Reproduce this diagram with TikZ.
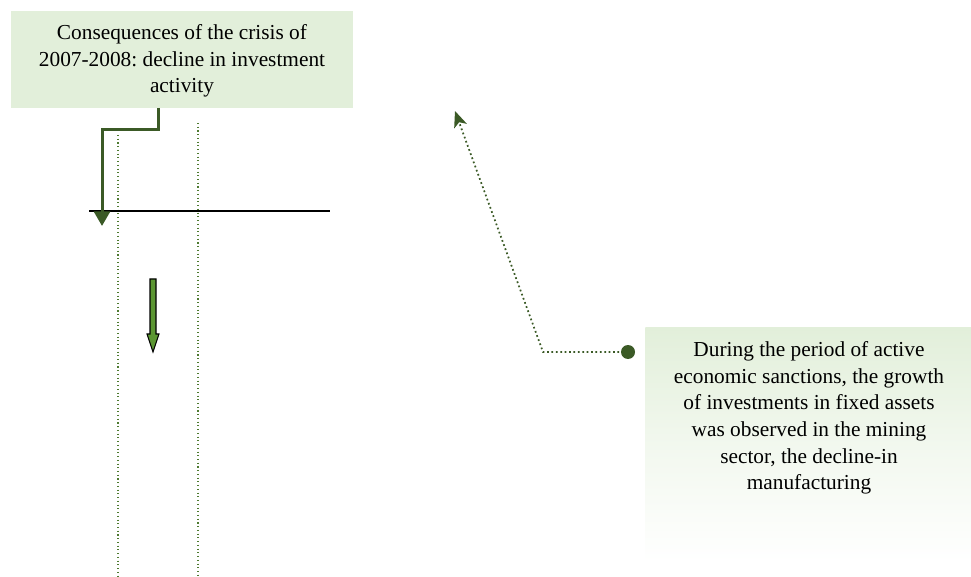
\documentclass[tikz,border=0pt]{standalone}
\usepackage{fontspec}
\setmainfont{Liberation Serif}
\frenchspacing
\usetikzlibrary{arrows.meta}
\definecolor{boxgreen}{HTML}{E2EFDA}
\definecolor{darkgreen}{HTML}{3B5A26}
\definecolor{midgreen}{HTML}{5B9632}
\definecolor{dotgreen}{HTML}{4E7A30}
\tikzset{
  boxtext/.style={align=center, font=\fontsize{16}{20}\selectfont, inner sep=0pt},
  greenbox/.style={fill=boxgreen, draw=none, inner sep=0pt},
  gradbox/.style={top color=boxgreen, bottom color=white, middle color=boxgreen!45, draw=none, inner sep=0pt},
  elbow/.style={draw=darkgreen, line width=2.25pt, -{Triangle[width=12pt,length=11pt]}},
  guide/.style={draw=dotgreen, line width=0.8pt, dotted},
  pointer/.style={draw=darkgreen, line width=1.3pt, dotted, -{Stealth[width=10pt,length=12pt,inset=3pt]}},
  axis/.style={draw=black, line width=1.1pt},
  blockarrow/.style={fill=midgreen, draw=black, line width=0.8pt},
}
\begin{document}
\begin{tikzpicture}[x=0.75pt, y=-0.75pt]
\useasboundingbox (0,0) rectangle (971,577);
% top-left box
\node[greenbox, minimum width=256.5pt, minimum height=72.75pt, anchor=north west] (b1) at (11,11) {};
\node[boxtext] (t1) at (182,61) {Consequences of the crisis of\\2007-2008: decline in investment\\activity};
% guide lines
\coordinate (g1a) at (118,135); \coordinate (g1b) at (118,577);
\coordinate (g2a) at (198,123); \coordinate (g2b) at (198,577);
\draw[guide] (g1a) -- (g1b);
\draw[guide] (g2a) -- (g2b);
% axis
\coordinate (axl) at (89,211); \coordinate (axr) at (330,211);
\draw[axis] (axl) -- (axr);
% elbow connector
\coordinate (e1) at (158,108);
\coordinate (e2) at (102,226);
\draw[elbow] (e1) -- (158,130) -- (102,130) -- (e2);
% block arrow
\draw[blockarrow] (150,279) -- (156,279) -- (156,334) -- (159,334) -- (153,352) -- (147,334) -- (150,334) -- cycle;
% right gradient box
\node[gradbox, minimum width=244.5pt, minimum height=176pt, anchor=north west] (b2) at (645,327) {};
\node[boxtext] (t2) at (809,418) {During the period of active\\economic sanctions, the growth\\of investments in fixed assets\\was observed in the mining\\sector, the decline-in\\manufacturing};
% dotted pointer
\node[circle, fill=darkgreen, minimum size=10.5pt, inner sep=0pt] (dot) at (628,352) {};
\coordinate (tip) at (455,111);
\draw[pointer] (dot.center) -- (543,352) -- (tip);
\end{tikzpicture}
\end{document}
